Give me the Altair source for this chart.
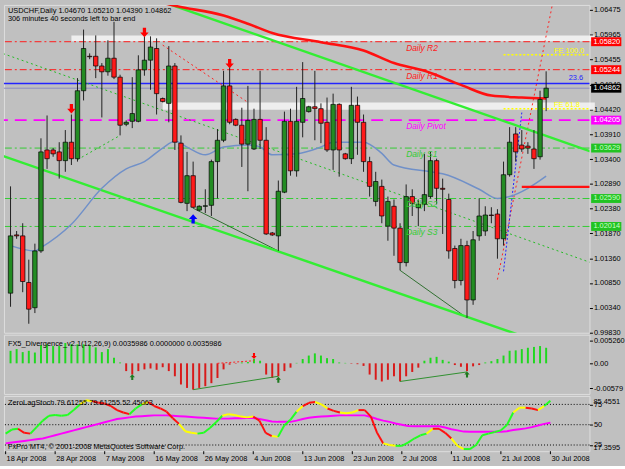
import altair as alt
import pandas as pd

# ---------------- data ----------------
date_labels = ['18 Apr 2008', '28 Apr 2008', '7 May 2008', '16 May 2008', '26 May 2008', '4 Jun 2008',
               '13 Jun 2008', '23 Jun 2008', '2 Jul 2008', '11 Jul 2008', '21 Jul 2008', '30 Jul 2008']
date_bars = [0, 8, 16, 24, 32, 40, 48, 56, 64, 72, 80, 88]

opens = [1.0064, 1.0184, 1.0182, 1.0086, 1.0034, 1.0151, 1.0359, 1.0359, 1.0355, 1.0337,
         1.0375, 1.0341, 1.0481, 1.0552, 1.0552, 1.0532, 1.0520, 1.0548, 1.0509, 1.0412,
         1.0418, 1.0418, 1.0524, 1.0544, 1.0568, 1.0465, 1.0455, 1.0532, 1.0373, 1.0249,
         1.0306, 1.0235, 1.0243, 1.0245, 1.0335, 1.0379, 1.0491, 1.0422, 1.0410, 1.0371,
         1.0361, 1.0422, 1.0379, 1.0188, 1.0182, 1.0272, 1.0418, 1.0316, 1.0416, 1.0438,
         1.0448, 1.0444, 1.0416, 1.0359, 1.0453, 1.0351, 1.0341, 1.0451, 1.0416, 1.0335,
         1.0253, 1.0284, 1.0202, 1.0243, 1.0198, 1.0127, 1.0263, 1.0240, 1.0247, 1.0263,
         1.0337, 1.0280, 1.0257, 1.0156, 1.0090, 1.0162, 1.0050, 1.0182, 1.0192, 1.0225,
         1.0227, 1.0176, 1.0308, 1.0392, 1.0369, 1.0367, 1.0361, 1.0345, 1.04670]
highs = [1.0284, 1.0192, 1.0208, 1.0133, 1.0166, 1.0383, 1.0430, 1.0363, 1.0375, 1.0400,
         1.0432, 1.0507, 1.0607, 1.0558, 1.0595, 1.0538, 1.0585, 1.0623, 1.0514, 1.0420,
         1.0509, 1.0554, 1.0593, 1.0593, 1.0589, 1.0467, 1.0573, 1.0538, 1.0389, 1.0355,
         1.0335, 1.0245, 1.0278, 1.0339, 1.0402, 1.0522, 1.0534, 1.0424, 1.0446, 1.0491,
         1.0444, 1.0522, 1.0406, 1.0190, 1.0296, 1.0438, 1.0444, 1.0489, 1.0540, 1.0450,
         1.0522, 1.0455, 1.0467, 1.0475, 1.0455, 1.0353, 1.0489, 1.0469, 1.0432, 1.0345,
         1.0314, 1.0298, 1.0263, 1.0257, 1.0208, 1.0288, 1.0278, 1.0257, 1.0351, 1.0355,
         1.0341, 1.0300, 1.0269, 1.0162, 1.0176, 1.0172, 1.0192, 1.0259, 1.0243, 1.0241,
         1.0237, 1.0335, 1.0406, 1.0406, 1.0400, 1.0375, 1.0400, 1.0481, 1.05210]
lows = [1.0036, 1.0176, 1.0066, 1.0001, 1.0023, 1.0147, 1.0320, 1.0345, 1.0300, 1.0314,
        1.0328, 1.0335, 1.0461, 1.0546, 1.0507, 1.0426, 1.0512, 1.0505, 1.0389, 1.0408,
        1.0404, 1.0416, 1.0512, 1.0483, 1.0432, 1.0457, 1.0416, 1.0359, 1.0249, 1.0233,
        1.0239, 1.0233, 1.0229, 1.0223, 1.0259, 1.0375, 1.0412, 1.0408, 1.0324, 1.0274,
        1.0359, 1.0361, 1.0184, 1.0182, 1.0151, 1.0270, 1.0306, 1.0304, 1.0385, 1.0436,
        1.0379, 1.0373, 1.0355, 1.0318, 1.0304, 1.0339, 1.0330, 1.0349, 1.0314, 1.0263,
        1.0243, 1.0208, 1.0172, 1.0141, 1.0111, 1.0119, 1.0223, 1.0202, 1.0233, 1.0259,
        1.0247, 1.0186, 1.0135, 1.0074, 1.0080, 1.0013, 1.0040, 1.0172, 1.0182, 1.0208,
        1.0135, 1.0162, 1.0304, 1.0335, 1.0355, 1.0351, 1.0320, 1.0339, 1.04390]
closes = [1.0182, 1.0182, 1.0088, 1.0031, 1.0151, 1.0355, 1.0341, 1.0351, 1.0337, 1.0375,
          1.0341, 1.0481, 1.0568, 1.0551, 1.0532, 1.0520, 1.0548, 1.0509, 1.0410, 1.0416,
          1.0434, 1.0524, 1.0544, 1.0571, 1.0475, 1.0459, 1.0532, 1.0375, 1.0251, 1.0306,
          1.0241, 1.0243, 1.0244, 1.0335, 1.0379, 1.0491, 1.0416, 1.0410, 1.0371, 1.0420,
          1.0422, 1.0379, 1.0186, 1.0184, 1.0274, 1.0418, 1.0316, 1.0418, 1.0465, 1.0448,
          1.0444, 1.0414, 1.0359, 1.0453, 1.0359, 1.0341, 1.0451, 1.0416, 1.0335, 1.0284,
          1.0294, 1.0223, 1.0253, 1.0198, 1.0127, 1.0263, 1.0249, 1.0247, 1.0267, 1.0337,
          1.0280, 1.0278, 1.0151, 1.0090, 1.0162, 1.0050, 1.0174, 1.0223, 1.0225, 1.0224,
          1.0176, 1.0308, 1.0375, 1.0355, 1.0361, 1.0363, 1.0341, 1.0463, 1.04862]

ma_red_bars = [25, 27, 35, 39, 43, 51, 58, 63, 68, 74, 79, 84, 88]
ma_red_vals = [1.0662, 1.0656, 1.0636, 1.0619, 1.0600, 1.0581, 1.0564, 1.0538, 1.0522, 1.0493, 1.0471, 1.0467, 1.0465]
ma_blue_bars = [0, 4, 5, 10, 15, 19, 22, 25, 27, 29, 32, 35, 39, 41, 43, 47, 51, 53, 58, 61, 63, 69, 71, 77, 80, 82, 85, 88]
ma_blue_vals = [1.0162, 1.0151, 1.0158, 1.0206, 1.0280, 1.0320, 1.0335, 1.0363, 1.0377, 1.0365, 1.0349, 1.0365,
                1.0369, 1.0365, 1.0349, 1.0351, 1.0365, 1.0375, 1.0375, 1.0352, 1.0328, 1.0314, 1.0310, 1.0278,
                1.0259, 1.0263, 1.0280, 1.0305]

pivot_names = ['Daily R2', 'Daily R1', 'Daily Pivot', 'Daily S1', 'Daily S2', 'Daily S3']
pivot_vals = [1.05820, 1.05244, 1.04205, 1.03629, 1.02590, 1.02014]
fibo_level = 1.0496
bid_price = 1.04862
fe_names = ['FE 100.0', 'FE 61.8']
fe_vals = [1.0555, 1.0444]
zone_lo = [1.0583, 1.0442]
zone_hi = [1.0595, 1.0457]
zone_start = [10, 25]

price_ticks = [0.99830, 1.00340, 1.00850, 1.01360, 1.01870, 1.02380, 1.02890, 1.03400,
               1.03910, 1.04420, 1.04940, 1.05455, 1.05965, 1.06475]

hist = [0.0029, 0.0033, 0.0026, 0.0029, 0.0025, 0.0042, 0.0044, 0.0040, 0.0040, 0.0047,
        0.0044, 0.0044, 0.0044, 0.0042, 0.0037, 0.0026, 0.0033, 0.0013, 0.0002, -0.0018,
        -0.0026, -0.0018, -0.0014, -0.0012, -0.0015, -0.0009, -0.0018, -0.0030, -0.0049, -0.0057,
        -0.0061, -0.0057, -0.0053, -0.0046, -0.0034, -0.0014, -0.0003, -0.0001, 0.0002, 0.0003,
        0.0010, 0.0006, -0.0026, -0.0034, -0.0030, -0.0018, -0.0010, 0.0001, 0.0010, 0.0018,
        0.0023, 0.0018, 0.0012, 0.0010, 0.0002, 0.0001, -0.0001, -0.0002, -0.0006, -0.0026,
        -0.0038, -0.0042, -0.0038, -0.0030, -0.0042, -0.0030, -0.0020, -0.0010, 0.0006, 0.0013,
        0.0015, 0.0008, 0.0004, -0.0004, -0.0008, -0.0018, -0.0007, -0.0004, 0.0002, 0.0005,
        0.0010, 0.0018, 0.0029, 0.0030, 0.0033, 0.0036, 0.0038, 0.0040, 0.0036]

stoch_main = [39, 44, 45, 40, 39, 47, 55, 61, 62, 61, 62, 68, 75, 80, 79, 77, 76, 73, 68, 65,
              63, 70, 75, 78, 73, 70, 66, 58, 51, 42, 40, 39, 40, 46, 53, 61, 63, 62, 60, 59,
              60, 55, 40, 36, 35, 49, 56, 66, 73, 77, 78, 75, 70, 67, 65, 64, 65, 68, 68, 60,
              40, 27, 25, 24, 24, 28, 33, 37, 39, 45, 45, 40, 33, 24, 20, 20, 25, 37, 39, 41,
              43, 50, 65, 71, 71, 70, 68, 73, 79.6]
stoch_dir = ("ggrrggggggggyyrrrrrrggyrrrrryyygggg"
             "yyyyyrrrygggyrryyrryyyrrrryyggggg"
             "yrrryyggggggggyyrryg")
stoch_signal = [27, 28, 29, 30, 31, 32, 33, 35, 37, 39, 41, 43, 45, 47, 49, 51, 53, 55, 57, 58,
                59, 60, 60.5, 61, 61.5, 61.5, 61.5, 61, 60.5, 60, 59.5, 59, 58.5, 58, 57.5, 57.5, 57.5, 58, 58, 58.3,
                58.3, 57, 55.5, 54, 53.5, 53.5, 53.5, 55, 57, 58.5, 59.5, 60, 60.5, 61, 61.5, 61.5, 61.5, 61.5, 61.5, 59.5,
                57, 55, 53.5, 51.5, 50, 48.5, 48.1, 48.1, 48.1, 48.1, 48, 46.5, 44.5, 43, 41.5, 41.3, 41.3, 41.3, 41.3, 41.3,
                41.3, 42, 43.5, 44.5, 45.5, 47, 49, 51, 52.45]
stoch_max_label = '85.4551'
stoch_min_label = '17.3595'

# trend lines: bar1, price1, bar2, price2
thick_green = [(20, 1.0686, 96, 1.0353), (-2, 1.0350, 84, 0.9976)]
dotted_green = [(-2, 1.0561, 96, 1.0124), (11, 1.0339, 18, 1.0389)]
dotted_red = [(25, 1.0575, 39, 1.0457), (80, 1.0092, 89, 1.0657)]
dotted_blue = [(81, 1.0109, 84, 1.0436)]
div_price = [(30, 1.0239, 44, 1.0151), (64, 1.0111, 75, 1.0013)]
red_level = [(84, 1.0283, 96, 1.0283)]
fe_start = 81

down_arrow_bars = [10, 22, 36]
down_arrow_vals = [1.0444, 1.0601, 1.0537]
up_arrow_bars = [30]
up_arrow_vals = [1.0217]

div_lines = [(30, -0.0061, 44, -0.0030), (64, -0.0042, 75, -0.0020)]
div_red_line = [(34, 0.0000, 40, 0.0006)]
div_up_bars = [20, 44, 75]
div_up_vals = [-0.0032, -0.0038, -0.0026]
div_down_bars = [40]
div_down_vals = [0.0017]

box_vals = [1.05820, 1.05244, 1.04862, 1.04205, 1.03629, 1.02590, 1.02014]
box_fill = ['#ff0000', '#ff0000', '#000000', '#ff00ff', '#22c322', '#22c322', '#22c322']
box_text_col = ['white', 'white', 'white', 'white', '#c8ffc8', '#c8ffc8', '#c8ffc8']

# ---------------- helpers ----------------
FONT = 'Liberation Sans'
W = 593
XS = alt.Scale(domain=[-0.271, 94.306], nice=False, zero=False)
PS = alt.Scale(domain=[0.99825, 1.06578], nice=False, zero=False)
DS = alt.Scale(domain=[-0.00709, 0.00663], nice=False, zero=False)
SS = alt.Scale(domain=[17.3595, 85.4551], nice=False, zero=False)

common_axis = dict(title=None, domain=False, grid=False, tickSize=3, tickColor='black',
                   labelPadding=1, labelFontSize=7.5, labelColor='black', labelFont=FONT,
                   labelOverlap=False, labelFlush=False, labelBound=False)
yaxis_main = alt.Axis(orient='right', values=price_ticks, format='.5f', **common_axis)
yaxis_div = alt.Axis(orient='right', values=[-0.00579, 0, 0.00526],
                     labelExpr="datum.value > 0.005 ? '0.005260' : (datum.value < -0.005 ? '-0.00579' : '0.00')",
                     **common_axis)
yaxis_sto = alt.Axis(orient='right', values=[25, 50, 75], format='d', **common_axis)


def X(f='i'):
    return alt.X(f + ':Q', scale=XS, axis=None)


def YP(f='p'):
    return alt.Y(f + ':Q', scale=PS, axis=yaxis_main)


def seg_df(rows):
    return pd.DataFrame(rows, columns=['i', 'p', 'i2', 'p2'])


DOWN = "M-0.35,-1L0.35,-1L0.35,0L0.9,0L0,1L-0.9,0L-0.35,0Z"
UP = "M-0.35,1L0.35,1L0.35,0L0.9,0L0,-1L-0.9,0L-0.35,0Z"
BOX = "M-3.4,-1L3.4,-1L3.4,1L-3.4,1Z"

# ---------------- main price panel ----------------
bars = pd.DataFrame({'i': list(range(len(opens))), 'o': opens, 'h': highs, 'l': lows, 'c': closes})
bars['col'] = ['#238c23' if c >= o else '#ff1a1a' for o, c in zip(opens, closes)]

zones = pd.DataFrame({'i': zone_start, 'i2': [96] * len(zone_start), 'p': zone_lo, 'p2': zone_hi})
piv = pd.DataFrame({'name': pivot_names, 'p': pivot_vals})
piv['col'] = ['#ff1a1a', '#ff1a1a', '#ff00ff', '#33cc33', '#33cc33', '#33cc33']

layers = []
layers.append(alt.Chart(zones).mark_rect(color='white', opacity=0.72).encode(
    x=X('i'), x2='i2', y=YP('p'), y2='p2'))
layers.append(alt.Chart(piv.iloc[0:2]).mark_rule(color='#ff1a1a', strokeWidth=1, strokeDash=[7, 3, 2, 3]).encode(y=YP()))
layers.append(alt.Chart(piv.iloc[2:3]).mark_rule(color='#ff00ff', strokeWidth=1.6, strokeDash=[12, 7]).encode(y=YP()))
layers.append(alt.Chart(piv.iloc[3:6]).mark_rule(color='#33cc33', strokeWidth=1, strokeDash=[7, 3, 2, 3]).encode(y=YP()))
layers.append(alt.Chart(pd.DataFrame({'p': [fibo_level]})).mark_rule(color='#2424ff', strokeWidth=1.4).encode(y=YP()))
layers.append(alt.Chart(pd.DataFrame({'p': [bid_price]})).mark_rule(color='#8c8cc0', strokeWidth=1).encode(y=YP()))
fe = pd.DataFrame({'i': [fe_start] * 2, 'i2': [96] * 2, 'p': fe_vals, 'name': fe_names})
layers.append(alt.Chart(fe).mark_rule(color='#ffff00', strokeWidth=1.5, strokeDash=[2, 2], clip=True).encode(
    x=X('i'), x2='i2', y=YP(), y2='p'))
layers.append(alt.Chart(seg_df(dotted_green)).mark_rule(color='#22bb22', strokeWidth=1, strokeDash=[2, 3], clip=True).encode(
    x=X('i'), x2='i2', y=YP(), y2='p2'))
layers.append(alt.Chart(seg_df(dotted_red)).mark_rule(color='#ff2020', strokeWidth=1, strokeDash=[2, 3], clip=True).encode(
    x=X('i'), x2='i2', y=YP(), y2='p2'))
layers.append(alt.Chart(seg_df(dotted_blue)).mark_rule(color='#2020ff', strokeWidth=1, strokeDash=[2, 2], clip=True).encode(
    x=X('i'), x2='i2', y=YP(), y2='p2'))
layers.append(alt.Chart(seg_df(div_price)).mark_rule(color='#2f6f2f', strokeWidth=1, clip=True).encode(
    x=X('i'), x2='i2', y=YP(), y2='p2'))
layers.append(alt.Chart(seg_df(thick_green)).mark_rule(color='#33ee33', strokeWidth=2.5, clip=True).encode(
    x=X('i'), x2='i2', y=YP(), y2='p2'))
layers.append(alt.Chart(pd.DataFrame({'i': ma_blue_bars, 'p': ma_blue_vals})).mark_line(
    color='#7090c8', strokeWidth=1.5, interpolate='monotone', clip=True).encode(x=X('i'), y=YP()))
layers.append(alt.Chart(pd.DataFrame({'i': ma_red_bars, 'p': ma_red_vals})).mark_line(
    color='#ff1010', strokeWidth=2.6, interpolate='monotone', clip=True).encode(x=X('i'), y=YP()))
layers.append(alt.Chart(seg_df(red_level)).mark_rule(color='#ff1010', strokeWidth=2.4, clip=True).encode(
    x=X('i'), x2='i2', y=YP(), y2='p2'))
layers.append(alt.Chart(bars).mark_rule(color='#202020', strokeWidth=1).encode(x=X('i'), y=YP('l'), y2='h'))
layers.append(alt.Chart(bars).mark_bar(size=4.5, stroke='black', strokeWidth=0.7).encode(
    x=X('i'), y=YP('o'), y2='c', fill=alt.Fill('col:N', scale=None)))
layers.append(alt.Chart(pd.DataFrame({'i': down_arrow_bars, 'p': down_arrow_vals})).mark_point(
    shape=DOWN, size=90, filled=True, color='#ff0000', opacity=1).encode(x=X('i'), y=YP()))
layers.append(alt.Chart(pd.DataFrame({'i': up_arrow_bars, 'p': up_arrow_vals})).mark_point(
    shape=UP, size=90, filled=True, color='#0000ff', opacity=1).encode(x=X('i'), y=YP()))
# pivot labels
layers.append(alt.Chart(piv.assign(i=65)).mark_text(align='left', baseline='middle', dy=6, fontSize=8.5,
                                                    fontStyle='italic', font=FONT).encode(
    x=X('i'), y=YP(), text='name:N', color=alt.Color('col:N', scale=None)))
layers.append(alt.Chart(fe.assign(j=89.3)).mark_text(align='left', baseline='middle', dy=-4, fontSize=7.5,
                                                     color='#ffff00', font=FONT).encode(
    x=X('j'), y=YP(), text='name:N'))
layers.append(alt.Chart(pd.DataFrame({'j': [91.7], 'p': [fibo_level], 't': ['23.6']})).mark_text(
    align='left', baseline='middle', dy=-5, fontSize=7.5, color='#2020ff', font=FONT).encode(
    x=X('j'), y=YP(), text='t:N'))
# right axis highlighted price boxes
boxes = pd.DataFrame({'p': box_vals, 'fill': box_fill, 'tc': box_text_col})
boxes['t'] = ['%.5f' % v for v in box_vals]
layers.append(alt.Chart(boxes).mark_point(shape=BOX, size=81, filled=True, opacity=1).encode(
    x=alt.value(610), y=YP(), color=alt.Color('fill:N', scale=None)))
layers.append(alt.Chart(boxes).mark_text(align='left', baseline='middle', fontSize=7.5, font=FONT).encode(
    x=alt.value(597), y=YP(), text='t:N', color=alt.Color('tc:N', scale=None)))
# window captions
cap = pd.DataFrame({'t': ['USDCHF,Daily  1.04670 1.05210 1.04390 1.04862',
                          '306 minutes 40 seconds left to bar end'], 'yy': [6, 14]})
layers.append(alt.Chart(cap).mark_text(align='left', baseline='middle', fontSize=7.5, color='black', font=FONT).encode(
    x=alt.value(4), y=alt.Y('yy:Q', scale=None), text='t:N'))

main = alt.layer(*layers).properties(width=W, height=332)

# ---------------- divergence panel ----------------
hdf = pd.DataFrame({'i': list(range(len(hist))), 'v': hist, 'z': [0.0] * len(hist)})
hdf['col'] = ['#1fd81f' if v >= 0 else '#d81a1a' for v in hist]
YD = alt.Y('v:Q', scale=DS, axis=yaxis_div)
dl = pd.DataFrame(div_lines, columns=['i', 'v', 'i2', 'v2'])
drl = pd.DataFrame(div_red_line, columns=['i', 'v', 'i2', 'v2'])
div = alt.layer(
    alt.Chart(hdf).mark_bar(size=2).encode(x=X('i'), y=YD, y2='z', color=alt.Color('col:N', scale=None)),
    alt.Chart(drl).mark_rule(color='#ff2020', strokeWidth=1, strokeDash=[2, 2]).encode(x=X('i'), x2='i2', y=YD, y2='v2'),
    alt.Chart(dl).mark_rule(color='#2f8f2f', strokeWidth=1).encode(x=X('i'), x2='i2', y=YD, y2='v2'),
    alt.Chart(pd.DataFrame({'i': div_up_bars, 'v': div_up_vals})).mark_point(
        shape=UP, size=36, filled=True, color='#1f7a1f', opacity=1).encode(x=X('i'), y=YD),
    alt.Chart(pd.DataFrame({'i': div_down_bars, 'v': div_down_vals})).mark_point(
        shape=DOWN, size=36, filled=True, color='#ff0000', opacity=1).encode(x=X('i'), y=YD),
    alt.Chart(pd.DataFrame({'t': ['FX5_Divergence_v2.1(12,26,9) 0.0035986 0.0000000 0.0035986']})).mark_text(
        align='left', baseline='middle', fontSize=7.5, color='black', font=FONT).encode(
        x=alt.value(4), y=alt.value(9), text='t:N'),
).properties(width=W, height=60)

# ---------------- stochastic panel ----------------
n = len(stoch_main)
segs = pd.DataFrame({'i': list(range(n - 1)), 'v': stoch_main[:-1], 'i2': list(range(1, n)), 'v2': stoch_main[1:]})
cmap = {'g': '#22ff22', 'y': '#ffff00', 'r': '#ff1010'}
segs['col'] = [cmap[stoch_dir[k]] for k in range(n - 1)]
YS = alt.Y('v:Q', scale=SS, axis=yaxis_sto)
sig = pd.DataFrame({'i': list(range(len(stoch_signal))), 'v': stoch_signal})
dates_df = pd.DataFrame({'i': date_bars, 't': date_labels})
H3 = 56
sto = alt.layer(
    alt.Chart(pd.DataFrame({'v': [25, 50, 75]})).mark_rule(color='black', strokeWidth=1, strokeDash=[1, 2]).encode(y=YS),
    alt.Chart(sig).mark_line(color='#ff00ff', strokeWidth=2).encode(x=X('i'), y=YS),
    alt.Chart(segs).mark_rule(strokeWidth=2).encode(x=X('i'), x2='i2', y=YS, y2='v2', color=alt.Color('col:N', scale=None)),
    alt.Chart(pd.DataFrame({'t': ['ZeroLagStoch 79.61255 79.61255 52.45063',
                                  'FxPro MT4, \u00a9 2001-2008 MetaQuotes Software Corp.'], 'yy': [7, 52]})).mark_text(
        align='left', baseline='middle', fontSize=7.5, color='black', font=FONT).encode(
        x=alt.value(4), y=alt.Y('yy:Q', scale=None), text='t:N'),
    # window max / min labels of the indicator scale
    alt.Chart(pd.DataFrame({'t': [stoch_max_label]})).mark_text(
        align='left', baseline='top', fontSize=7.5, color='black', font=FONT).encode(
        x=alt.value(597), y=alt.value(2), text='t:N'),
    alt.Chart(pd.DataFrame({'t': [stoch_min_label]})).mark_text(
        align='left', baseline='bottom', fontSize=7.5, color='black', font=FONT).encode(
        x=alt.value(597), y=alt.value(H3 + 1), text='t:N'),
    # date axis (ticks + labels under the panel)
    alt.Chart(dates_df).mark_rule(color='black', strokeWidth=1).encode(
        x=X('i'), y=alt.value(H3), y2=alt.value(H3 + 3)),
    alt.Chart(dates_df).mark_text(align='left', baseline='middle', dx=1, fontSize=7.5, color='black', font=FONT).encode(
        x=X('i'), y=alt.value(H3 + 8), text='t:N'),
).properties(width=W, height=H3)

chart = alt.vconcat(main, div, sto, spacing=2, bounds='flush').properties(
    padding={'left': 1, 'top': 1, 'right': 0, 'bottom': 0}, background='#c0c0c0'
).configure_view(stroke='black', strokeWidth=1).configure(font=FONT)

chart.save('out.html', embed_options={'renderer': 'svg', 'actions': False})
